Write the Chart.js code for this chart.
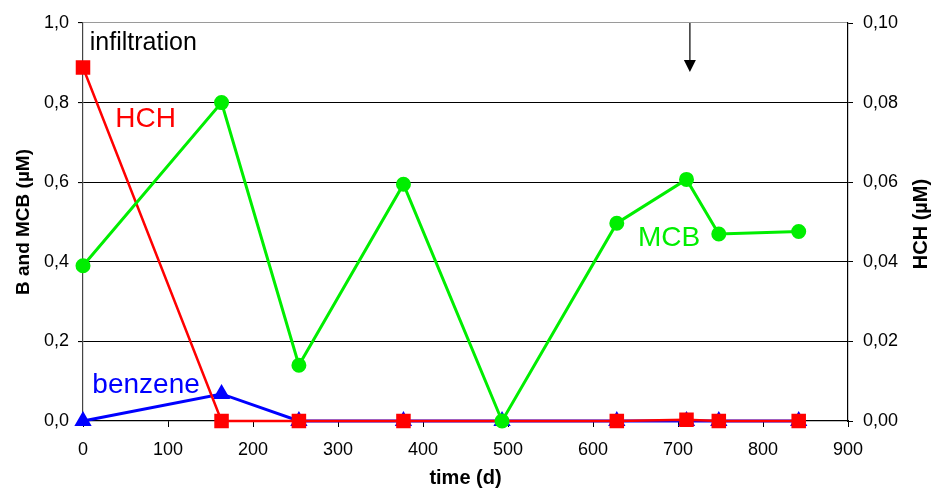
<!DOCTYPE html>
<html>
<head>
<meta charset="utf-8">
<script src="https://cdn.jsdelivr.net/npm/chart.js@4"></script>
<style>
  html, body { margin: 0; padding: 0; background: #fff; }
  #wrap { width: 935px; height: 488px; }
</style>
</head>
<body>
<div id="wrap"><canvas id="chart"></canvas></div>
<script>
// sampling times (d)
const times = [0, 163, 254, 377, 493, 628, 710, 748, 842];
// MCB and benzene on left axis (µM), HCH on right axis (µM)
const mcb = [0.39, 0.80, 0.14, 0.595, 0.0, 0.497, 0.607, 0.47, 0.476];
const benzene = [0.0, 0.068, 0.0, 0.0, 0.0, 0.0, 0.0, 0.0, 0.0];
const hch = [0.0888, 0.0, 0.0, 0.0, null, 0.0, 0.0003, 0.0, 0.0];
const leftTicks = [0, 0.2, 0.4, 0.6, 0.8, 1.0];
const rightTicks = [0, 0.02, 0.04, 0.06, 0.08, 0.10];
const infiltrationDay = 714;

function pts(ys) {
    return times.map(function (t, i) { return { x: t, y: ys[i] }; });
}

const comma = function (v, d) { return v.toFixed(d).replace('.', ','); };

const extras = {
    id: 'extras',
    afterDraw(chart) {
        const ctx = chart.ctx;
        const x = chart.scales.x, y = chart.scales.y;
        const a = chart.chartArea;
        ctx.save();

        // infiltration arrow
        const ax = x.getPixelForValue(infiltrationDay);
        const tip = y.getPixelForValue(0.877);
        ctx.strokeStyle = '#000';
        ctx.fillStyle = '#000';
        ctx.lineWidth = 1.2;
        ctx.beginPath();
        ctx.moveTo(ax, a.top);
        ctx.lineTo(ax, tip - 10);
        ctx.stroke();
        ctx.beginPath();
        ctx.moveTo(ax - 6, tip - 12);
        ctx.lineTo(ax + 6, tip - 12);
        ctx.lineTo(ax, tip);
        ctx.closePath();
        ctx.fill();

        // in-plot labels
        ctx.textBaseline = 'alphabetic';
        ctx.textAlign = 'left';
        const label = function (txt, dx, dy, color, size) {
            ctx.fillStyle = color;
            ctx.font = size + 'px "Liberation Sans", Arial, sans-serif';
            ctx.fillText(txt, x.getPixelForValue(dx), y.getPixelForValue(dy));
        };
        label('infiltration', 8, 0.932, '#000', 25);
        label('HCH', 38, 0.739, '#ff0000', 28);
        label('MCB', 653, 0.44, '#00ee00', 28);
        label('benzene', 11, 0.070, '#0000ff', 28);

        // axis titles
        ctx.fillStyle = '#000';
        ctx.textAlign = 'center';
        ctx.textBaseline = 'middle';
        const midY = (a.top + a.bottom) / 2;
        ctx.font = 'bold 19px "Liberation Sans", Arial, sans-serif';
        ctx.save();
        ctx.translate(24, midY);
        ctx.rotate(-Math.PI / 2);
        ctx.fillText('B and MCB (µM)', 0, 0);
        ctx.restore();
        ctx.font = 'bold 20px "Liberation Sans", Arial, sans-serif';
        ctx.save();
        ctx.translate(921, midY + 2);
        ctx.rotate(-Math.PI / 2);
        ctx.fillText('HCH (µM)', 0, 0);
        ctx.restore();
        ctx.fillText('time (d)', (a.left + a.right) / 2, 478);

        ctx.restore();
    }
};

const tickFont = { family: '"Liberation Sans", Arial, sans-serif', size: 18 };

new Chart(document.getElementById('chart'), {
    type: 'line',
    data: {
        datasets: [{
            label: 'MCB',
            data: pts(mcb),
            yAxisID: 'y',
            borderColor: '#00ee00',
            backgroundColor: '#00ee00',
            borderWidth: 3,
            pointStyle: 'circle',
            pointRadius: 6,
            clip: false,
            order: 1
        }, {
            label: 'HCH',
            data: pts(hch),
            yAxisID: 'y2',
            borderColor: '#ff0000',
            backgroundColor: '#ff0000',
            borderWidth: 2.5,
            pointStyle: 'rect',
            pointRadius: 8.5,
            spanGaps: true,
            clip: false,
            order: 2
        }, {
            label: 'benzene',
            data: pts(benzene),
            yAxisID: 'y',
            borderColor: '#0000ff',
            backgroundColor: '#0000ff',
            borderWidth: 3,
            pointStyle: 'triangle',
            pointRadius: 7,
            clip: false,
            order: 3
        }]
    },
    options: {
        responsive: true,
        maintainAspectRatio: false,
        animation: false,
        layout: { padding: { top: 23, left: 0, right: 0, bottom: 0 } },
        plugins: { legend: { display: false }, tooltip: { enabled: false } },
        elements: { line: { tension: 0 } },
        scales: {
            x: {
                type: 'linear',
                min: 0, max: 900,
                ticks: { stepSize: 100, color: '#000', font: tickFont, padding: 12, maxRotation: 0 },
                grid: { drawOnChartArea: false, tickLength: 6, color: '#000' },
                border: { color: '#000', width: 1.2 },
                afterFit(s) { s.height = 67; }
            },
            y: {
                position: 'left',
                min: 0, max: 1.0,
                afterBuildTicks(s) { s.ticks = leftTicks.map(function (v) { return { value: v }; }); },
                ticks: { color: '#000', font: tickFont, padding: 9, callback: function (v) { return comma(v, 1); } },
                grid: {
                    color: function (c) { return c.tick && c.tick.value === 1 ? '#9a9a9a' : '#000'; },
                    tickColor: '#000',
                    tickLength: 5,
                    lineWidth: 1.1
                },
                border: { color: '#444', width: 1.2 },
                afterFit(s) { s.width = 83; }
            },
            y2: {
                position: 'right',
                min: 0, max: 0.10,
                afterBuildTicks(s) { s.ticks = rightTicks.map(function (v) { return { value: v }; }); },
                ticks: { color: '#000', font: tickFont, padding: 10, callback: function (v) { return comma(v, 2); } },
                grid: { drawOnChartArea: false, tickLength: 5, color: '#000' },
                border: { color: '#000', width: 1.2 },
                afterFit(s) { s.width = 87; }
            }
        }
    },
    plugins: [extras]
});
</script>
</body>
</html>
